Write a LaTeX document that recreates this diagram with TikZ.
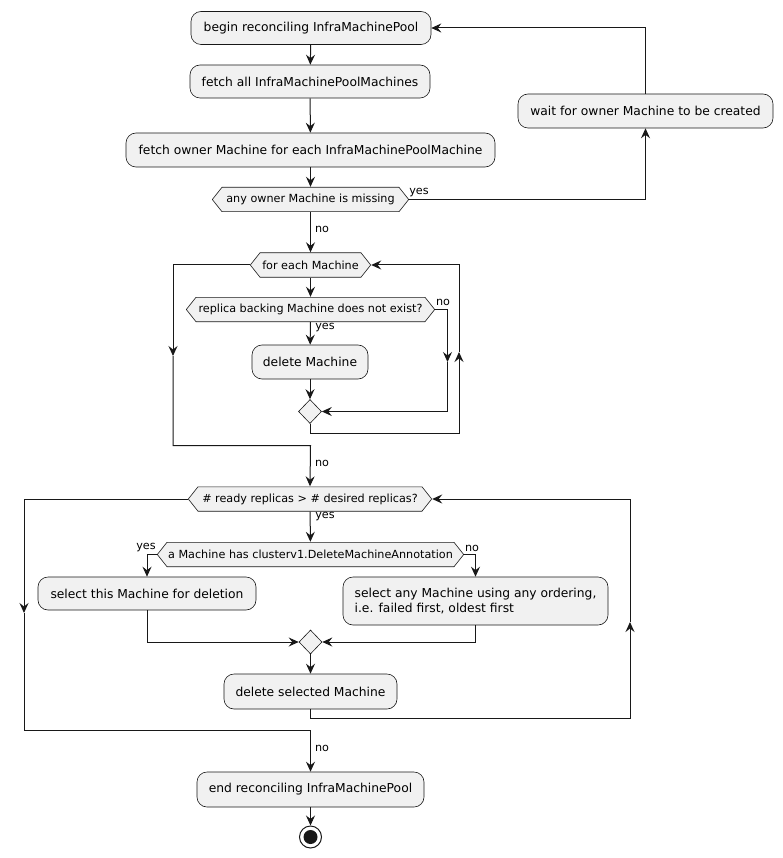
\documentclass[tikz,border=0pt]{standalone}
\usepackage{fontspec}
\setmainfont{DejaVu Sans}
\usetikzlibrary{shapes.geometric,arrows.meta}
\definecolor{boxfill}{HTML}{F1F1F1}
\definecolor{boxline}{HTML}{181818}
\begin{document}
\begin{tikzpicture}[x=1pt,y=-1pt,
  act/.style={draw=boxline,fill=boxfill,rounded corners=10pt,line width=0.6pt,inner sep=0pt,minimum height=33pt,font=\fontsize{12.3}{15.5}\selectfont,align=left},
  cond/.style={fill=white,inner sep=0pt,minimum height=25pt,font=\fontsize{11.2}{13}\selectfont,
    path picture={\filldraw[fill=boxfill,draw=boxline,line width=0.6pt]
      ([xshift=0.3pt]path picture bounding box.west)
      -- ([xshift=10pt,yshift=-0.3pt]path picture bounding box.north west)
      -- ([xshift=-10pt,yshift=-0.3pt]path picture bounding box.north east)
      -- ([xshift=-0.3pt]path picture bounding box.east)
      -- ([xshift=-10pt,yshift=0.3pt]path picture bounding box.south east)
      -- ([xshift=10pt,yshift=0.3pt]path picture bounding box.south west) -- cycle;}},
  merge/.style={draw=boxline,fill=boxfill,diamond,line width=0.6pt,inner sep=0pt,minimum width=23pt,minimum height=24pt},
  lbl/.style={inner sep=0pt,font=\fontsize{11.2}{13}\selectfont},
  arr/.style={draw=boxline,line width=1pt,-{Stealth[length=10pt,width=9pt,inset=3.5pt]}}]
\useasboundingbox (0,0) rectangle (783,858);
% activities and tests
\node[act,minimum width=240pt] (begin) at (311,28) {begin reconciling InfraMachinePool};
\node[act,minimum width=240pt] (fetchall) at (310,81.5) {fetch all InfraMachinePoolMachines};
\node[act,minimum width=369pt,minimum height=34pt] (fetchown) at (310.5,150) {fetch owner Machine for each InfraMachinePoolMachine};
\node[cond,minimum width=197pt] (missing) at (310.5,199.5) {any owner Machine is missing};
\node[act,minimum width=255pt,minimum height=34pt] (wait) at (645.5,111) {wait for owner Machine to be created};
\node[cond,minimum width=121pt] (foreach) at (310.5,265) {for each Machine};
\node[cond,minimum width=249pt] (replica) at (310.5,309.5) {replica backing Machine does not exist?};
\node[act,minimum width=116pt,minimum height=34pt] (delm) at (310,362) {delete Machine};
\node[merge] (mergeA) at (310,411.5) {};
\node[cond,minimum width=244pt] (ready) at (310,499) {\# ready replicas > \# desired replicas?};
\node[cond,minimum width=307pt] (annot) at (310.5,554.5) {a Machine has clusterv1.DeleteMachineAnnotation};
\node[act,minimum width=218pt] (selthis) at (147,593.5) {select this Machine for deletion};
\node[act,minimum width=265pt,minimum height=48pt] (selany) at (475.5,601) {select any Machine using any ordering,\\i.e. failed first, oldest first};
\node[merge] (mergeB) at (310.5,642) {};
\node[act,minimum width=173pt,minimum height=35pt] (delsel) at (310.5,691.5) {delete selected Machine};
\node[act,minimum width=227pt,minimum height=35pt] (end) at (310.5,789.5) {end reconciling InfraMachinePool};
\node[circle,draw=boxline,line width=1pt,minimum size=22pt,inner sep=0pt] (stop) at (310.5,837) {};
\fill[boxline] (stop.center) circle (7pt);
% corners of the loops
\coordinate (waitlp) at (459,352);
\coordinate (waitlq) at (459,433);
\coordinate (forlp) at (173,356);
\coordinate (forlq) at (310.5,445.5);
\coordinate (nolp) at (447.5,362);
\coordinate (readylp) at (24,613);
\coordinate (readylq) at (310.5,730.5);
\coordinate (dellp) at (630,622);
\coordinate (dellq) at (630,718);
% connectors
\draw[arr] (begin) -- (fetchall);
\draw[arr] (fetchall) -- (fetchown);
\draw[arr] (fetchown) -- (missing);
\draw[arr] (missing.east) -| (wait.south);
\draw[arr] (wait.north) |- (begin.east);
\draw[arr] (missing) -- (foreach);
\draw[arr] (foreach) -- (replica);
\draw[arr] (replica) -- (delm);
\draw[arr] (delm) -- (mergeA);
\draw[arr] (replica.east) -| (nolp);
\draw[arr] (nolp) |- (mergeA.east);
\draw[arr] (mergeA.south) |- (waitlq) -- (waitlp);
\draw[arr] (waitlp) |- (foreach.east);
\draw[arr] (foreach.west) -| (forlp);
\draw[arr] (forlp) |- (forlq) -- (ready.north);
\draw[arr] (ready) -- (annot);
\draw[arr] (annot.west) -| (selthis.north);
\draw[arr] (annot.east) -| (selany.north);
\draw[arr] (selthis.south) |- (mergeB.west);
\draw[arr] (selany.south) |- (mergeB.east);
\draw[arr] (mergeB) -- (delsel);
\draw[arr] (delsel.south) |- (dellq) -- (dellp);
\draw[arr] (dellp) |- (ready.east);
\draw[arr] (ready.west) -| (readylp);
\draw[arr] (readylp) |- (readylq) -- (end.north);
\draw[arr] (end) -- (stop);
% branch labels
\node[lbl] (yesmiss) at (419,193) {yes};
\node[lbl] (nomiss) at (322,229) {no};
\node[lbl] (noreplica) at (443,302) {no};
\node[lbl] (yesreplica) at (325,328) {yes};
\node[lbl] (noforeach) at (322,463) {no};
\node[lbl] (yesready) at (325,517) {yes};
\node[lbl] (yesannot) at (146,548) {yes};
\node[lbl] (noannot) at (472,548) {no};
\node[lbl] (noready) at (322,748) {no};
\end{tikzpicture}
\end{document}
